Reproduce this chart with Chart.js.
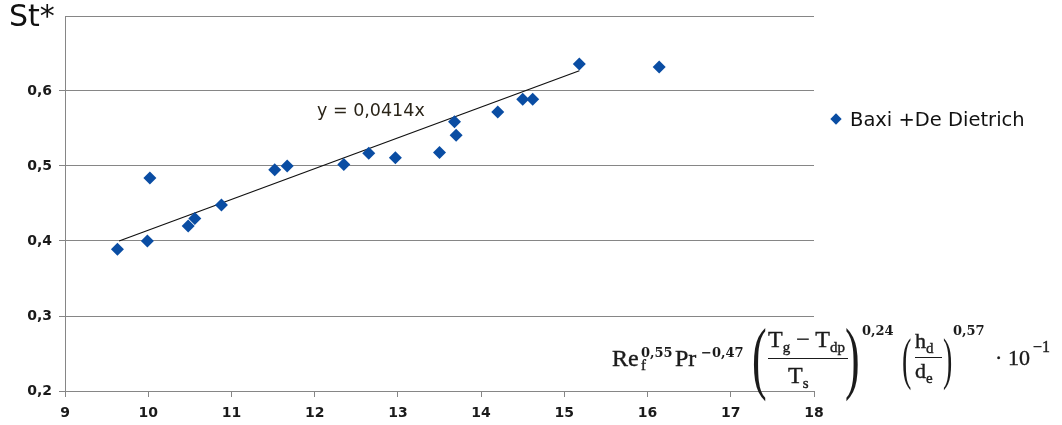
<!DOCTYPE html>
<html lang="en">
<head>
  <meta charset="UTF-8">
  <title>St* vs Re/Pr correlation</title>
  <script src="https://cdn.jsdelivr.net/npm/chart.js@4.4.0/dist/chart.umd.min.js"></script>
  <style>
    body { margin: 0; background: #ffffff; }
    #wrap { position: relative; width: 1062px; height: 425px; }
    #stTitle { position: absolute; left: 9px; top: -2px; font: 30px "DejaVu Sans", sans-serif; color: #111; }
    #trendText { position: absolute; left: 317px; top: 100px; font: 17.5px "DejaVu Sans", sans-serif; color: #2a2418; }
    #legend { position: absolute; left: 830px; top: 108px; font: 19.5px "DejaVu Sans", sans-serif; color: #111; white-space: nowrap; }
    #legend .mark { display: inline-block; width: 8px; height: 8px; background: #0a4da3; transform: rotate(45deg); margin: 0 10px 3px 2px; }
    #formula span { position: absolute; line-height: 1; white-space: nowrap; font-family: "Liberation Serif", serif; color: #1b1b1b; -webkit-text-stroke: 0.4px #1b1b1b; }
    #formula sub { font-size: 15px; vertical-align: -5px; line-height: 0; }
    #formula .big { font-size: 24px; }
    #formula .mid { font-size: 22px; }
    #formula .exp { font-family: "DejaVu Serif", serif; font-size: 13px; font-weight: bold; -webkit-text-stroke: 0; }
    #formula .sub { font-size: 15px; }
    #formula .par { font-size: 80px; transform: scaleX(0.55); transform-origin: 0 0; -webkit-text-stroke: 0; }
    #formula .par2 { font-size: 56px; transform: scaleX(0.5); transform-origin: 0 0; -webkit-text-stroke: 0; }
    #formula .bar { position: absolute; height: 1px; background: #1b1b1b; }
  </style>
</head>
<body>
  <div id="wrap">
    <canvas id="chart"></canvas>
    <div id="stTitle">St*</div>
    <div id="trendText"></div>
    <div id="legend"><span class="mark"></span><span id="legendText"></span></div>
    <div id="formula">
      <span class="big" style="left:612px;top:346px">Re</span>
      <span class="exp" style="left:641px;top:346px">0,55</span>
      <span class="sub" style="left:641px;top:358px">f</span>
      <span class="big" style="left:675px;top:346px">Pr</span>
      <span class="exp" style="left:701px;top:346px">−0,47</span>
      <span class="par" style="left:752px;top:317px">(</span>
      <span class="big" style="left:768px;top:327px">T<sub>g</sub> − T<sub>dp</sub></span>
      <div class="bar" style="left:768px;top:358px;width:80px"></div>
      <span class="big" style="left:788px;top:363px">T<sub>s</sub></span>
      <span class="par" style="left:845px;top:317px">)</span>
      <span class="exp" style="left:862px;top:324px">0,24</span>
      <span class="par2" style="left:902px;top:331px">(</span>
      <span class="mid" style="left:915px;top:330px">h<sub>d</sub></span>
      <div class="bar" style="left:915px;top:357px;width:27px"></div>
      <span class="mid" style="left:915px;top:360px">d<sub>e</sub></span>
      <span class="par2" style="left:943px;top:331px">)</span>
      <span class="exp" style="left:953px;top:324px">0,57</span>
      <span class="mid" style="left:995px;top:347px">·</span>
      <span class="mid" style="left:1008px;top:347px">10</span>
      <span class="sub" style="left:1033px;top:339px;font-size:16px">−1</span>
    </div>
  </div>

  <script>
    // values
    const seriesName = "Baxi +De Dietrich";
    const pointsX = [9.63, 9.99, 10.02, 10.48, 10.56, 10.88, 11.52, 11.67, 12.35, 12.65,
                     12.97, 13.50, 13.68, 13.70, 14.20, 14.50, 14.62, 15.18, 16.14];
    const pointsY = [0.389, 0.400, 0.484, 0.420, 0.430, 0.448, 0.495, 0.500, 0.502, 0.517,
                     0.511, 0.518, 0.559, 0.541, 0.572, 0.589, 0.589, 0.636, 0.632];
    const trendLabel = "y = 0,0414x";
    const trendX = [9.65, 15.18];
    const trendY = [0.400, 0.627];
    const xTicks = [9, 10, 11, 12, 13, 14, 15, 16, 17, 18];
    const yTicks = [0.2, 0.3, 0.4, 0.5, 0.6, 0.7];

    document.getElementById("legendText").textContent = seriesName;
    document.getElementById("trendText").textContent = trendLabel;

    const gridColor = "#868686";
    const tickFont = { family: "DejaVu Sans", size: 14, weight: "bold" };

    new Chart(document.getElementById("chart"), {
      type: "scatter",
      data: {
        datasets: [
          {
            label: seriesName,
            data: pointsX.map((x, i) => ({ x: x, y: pointsY[i] })),
            pointStyle: "rectRot",
            pointRadius: 6.5,
            backgroundColor: "#0a4da3",
            borderColor: "#0a4da3",
            borderWidth: 0
          },
          {
            label: "trend",
            data: trendX.map((x, i) => ({ x: x, y: trendY[i] })),
            showLine: true,
            pointRadius: 0,
            borderColor: "#111111",
            borderWidth: 1.3
          }
        ]
      },
      options: {
        responsive: true,
        maintainAspectRatio: false,
        animation: false,
        layout: { padding: { top: 16, right: 248, left: 0, bottom: 0 } },
        plugins: {
          legend: { display: false },
          tooltip: { enabled: false }
        },
        scales: {
          x: {
            type: "linear",
            min: 9,
            max: 18,
            afterBuildTicks: s => { s.ticks = xTicks.map(v => ({ value: v })); },
            afterFit: s => { s.height = 34; },
            grid: { drawOnChartArea: false, tickLength: 6, color: gridColor },
            border: { color: gridColor, width: 1 },
            ticks: { font: tickFont, color: "#1a1a1a", padding: 8, maxRotation: 0 }
          },
          y: {
            min: 0.2,
            max: 0.7,
            afterBuildTicks: s => { s.ticks = yTicks.map(v => ({ value: v })); },
            afterFit: s => { s.width = 65; },
            grid: {
              color: gridColor,
              tickLength: 6,
              tickColor: ctx => (ctx.tick && ctx.tick.value > 0.65) ? "rgba(0,0,0,0)" : gridColor
            },
            border: { color: gridColor, width: 1 },
            ticks: {
              font: tickFont,
              color: "#1a1a1a",
              padding: 7,
              callback: v => v > 0.65 ? "" : v.toFixed(1).replace(".", ",")
            }
          }
        }
      }
    });
  </script>
</body>
</html>
